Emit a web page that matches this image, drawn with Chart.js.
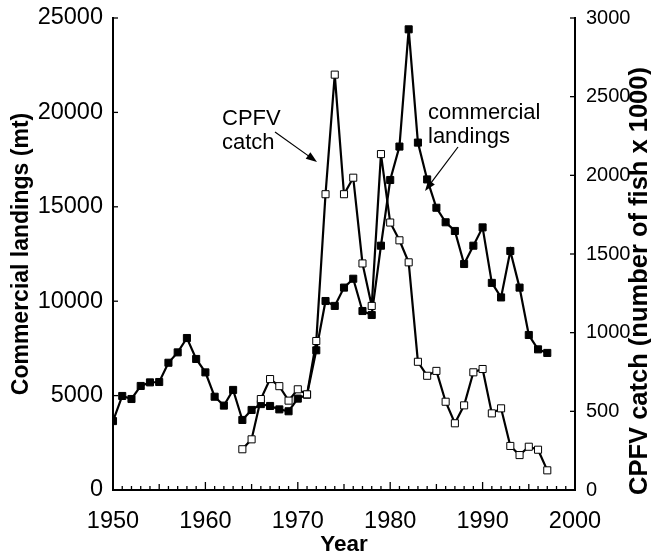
<!DOCTYPE html>
<html>
<head>
<meta charset="utf-8">
<script src="https://cdn.jsdelivr.net/npm/chart.js@4.4.0/dist/chart.umd.min.js"></script>
<style>
  html, body { margin: 0; padding: 0; background: #fff; }
  #wrap { width: 651px; height: 558px; }
</style>
</head>
<body>
<div id="wrap"><canvas id="chart" width="651" height="558"></canvas></div>
<script>
// years shared by both series
const years = [1950, 1951, 1952, 1953, 1954, 1955, 1956, 1957, 1958, 1959,
               1960, 1961, 1962, 1963, 1964, 1965, 1966, 1967, 1968, 1969,
               1970, 1971, 1972, 1973, 1974, 1975, 1976, 1977, 1978, 1979,
               1980, 1981, 1982, 1983, 1984, 1985, 1986, 1987, 1988, 1989,
               1990, 1991, 1992, 1993, 1994, 1995, 1996, 1997];

// commercial landings (mt), left axis
const commercial = [3650, 4980, 4820, 5510, 5700, 5720, 6740, 7290, 8050, 6940,
                    6230, 4940, 4470, 5300, 3710, 4240, 4550, 4450, 4270, 4170,
                    4840, 5050, 7400, 10010, 9750, 10720, 11190, 9480, 9270, 12940,
                    16420, 18190, 24400, 18400, 16450, 14950, 14180, 13720, 11970, 12940,
                    13910, 10970, 10200, 12660, 10720, 8210, 7450, 7260];

// CPFV catch (number of fish x 1000), right axis - no record before 1964
const cpfv = [null, null, null, null, null, null, null, null, null, null,
              null, null, null, null, 259, 322, 578, 705, 660, 568,
              640, 608, 947, 1880, 2640, 1880, 1985, 1440, 1170, 2135,
              1700, 1587, 1447, 815, 726, 757, 561, 424, 538, 748,
              769, 487, 519, 280, 222, 275, 256, 125];

const leftTicks = [0, 5000, 10000, 15000, 20000, 25000];
const rightTicks = [0, 500, 1000, 1500, 2000, 2500, 3000];

const FONT = '"Liberation Sans", Arial, Helvetica, sans-serif';
Chart.defaults.font.family = FONT;
Chart.defaults.color = '#000';

// short tick marks pointing into the plot
const inwardTicks = {
  id: 'inwardTicks',
  afterDraw(chart) {
    const ctx = chart.ctx;
    const area = chart.chartArea;
    const {x, y, y1} = chart.scales;
    ctx.save();
    ctx.strokeStyle = '#000';
    ctx.lineWidth = 1.3;
    x.ticks.forEach(t => {
      const px = x.getPixelForValue(t.value);
      const len = t.value % 10 === 0 ? 8 : (t.value % 5 === 0 ? 6 : 4);
      ctx.beginPath();
      ctx.moveTo(px, area.bottom);
      ctx.lineTo(px, area.bottom - len);
      ctx.stroke();
    });
    leftTicks.forEach(v => {
      const py = y.getPixelForValue(v);
      ctx.beginPath();
      ctx.moveTo(area.left, py);
      ctx.lineTo(area.left + 5, py);
      ctx.stroke();
    });
    rightTicks.forEach(v => {
      const py = y1.getPixelForValue(v);
      ctx.beginPath();
      ctx.moveTo(area.right, py);
      ctx.lineTo(area.right - 5, py);
      ctx.stroke();
    });
    ctx.restore();
  }
};

function arrow(ctx, x0, y0, x1, y1) {
  const a = Math.atan2(y1 - y0, x1 - x0);
  const len = 11, half = 4;
  ctx.beginPath();
  ctx.moveTo(x0, y0);
  ctx.lineTo(x1 - Math.cos(a) * len * 0.8, y1 - Math.sin(a) * len * 0.8);
  ctx.stroke();
  ctx.beginPath();
  ctx.moveTo(x1, y1);
  ctx.lineTo(x1 - Math.cos(a) * len - Math.sin(a) * half, y1 - Math.sin(a) * len + Math.cos(a) * half);
  ctx.lineTo(x1 - Math.cos(a) * len + Math.sin(a) * half, y1 - Math.sin(a) * len - Math.cos(a) * half);
  ctx.closePath();
  ctx.fill();
}

// series labels with arrows, and the right axis title (reads bottom to top)
const notes = {
  id: 'notes',
  afterDraw(chart) {
    const ctx = chart.ctx;
    ctx.save();
    ctx.fillStyle = '#000';
    ctx.strokeStyle = '#000';
    ctx.lineWidth = 1.2;
    ctx.font = '22px ' + FONT;
    ctx.textAlign = 'left';
    ctx.textBaseline = 'alphabetic';
    ctx.fillText('CPFV', 222, 125);
    ctx.fillText('catch', 222, 149);
    ctx.fillText('commercial', 428, 119);
    ctx.fillText('landings', 428, 143);
    arrow(ctx, 275, 132, 317, 162);
    arrow(ctx, 458, 147, 425, 191);

    ctx.translate(640, 281);
    ctx.rotate(-Math.PI / 2);
    ctx.font = 'bold 25.5px ' + FONT;
    ctx.textAlign = 'center';
    ctx.textBaseline = 'middle';
    ctx.fillText('CPFV catch (number of fish x 1000)', 0, 0);
    ctx.restore();
  }
};

const plain = v => String(v);
const noPad = s => { s.paddingTop = 0; s.paddingBottom = 0; };

new Chart(document.getElementById('chart'), {
  type: 'line',
  data: {
    datasets: [
      {
        label: 'CPFV catch',
        data: years.map((yr, i) => ({x: yr, y: cpfv[i]})),
        yAxisID: 'y1',
        borderColor: '#000',
        borderWidth: 2.2,
        pointStyle: 'rect',
        pointRadius: 5,
        pointBackgroundColor: '#fff',
        pointBorderColor: '#000',
        pointBorderWidth: 1,
        tension: 0,
        order: 0
      },
      {
        label: 'commercial landings',
        data: years.map((yr, i) => ({x: yr, y: commercial[i]})),
        yAxisID: 'y',
        borderColor: '#000',
        borderWidth: 2.2,
        pointStyle: 'rect',
        pointRadius: 5,
        pointBackgroundColor: '#000',
        pointBorderColor: '#000',
        pointBorderWidth: 1,
        tension: 0,
        order: 1
      }
    ]
  },
  options: {
    responsive: false,
    animation: false,
    layout: { padding: { top: 18, left: 0, right: 0, bottom: 0 } },
    plugins: {
      legend: { display: false },
      tooltip: { enabled: false }
    },
    scales: {
      x: {
        type: 'linear',
        position: 'bottom',
        min: 1950,
        max: 2000,
        grid: { display: false, drawTicks: false },
        border: { display: true, color: '#000', width: 2 },
        ticks: {
          stepSize: 1,
          autoSkip: false,
          maxRotation: 0,
          minRotation: 0,
          padding: 17,
          font: { size: 23.5 },
          callback: v => (v % 10 === 0 ? String(v) : '')
        },
        title: {
          display: true,
          text: 'Year',
          font: { size: 22.5, weight: 'bold' },
          padding: { top: 0, bottom: 0 }
        },
        afterFit(s) { s.height = 68; }
      },
      y: {
        position: 'left',
        min: 0,
        max: 25000,
        grid: { display: false, drawTicks: false },
        border: { display: true, color: '#000', width: 2 },
        ticks: { stepSize: 5000, padding: 10, font: { size: 23.5 }, callback: plain },
        title: {
          display: true,
          text: 'Commercial landings (mt)',
          font: { size: 23, weight: 'bold' },
          padding: { top: 8, bottom: 0 }
        },
        afterFit(s) { s.width = 113; noPad(s); }
      },
      y1: {
        position: 'right',
        min: 0,
        max: 3000,
        grid: { display: false, drawTicks: false },
        border: { display: true, color: '#000', width: 2 },
        ticks: { stepSize: 500, padding: 11, font: { size: 20 }, callback: plain },
        afterFit(s) { s.width = 76; noPad(s); }
      }
    }
  },
  plugins: [inwardTicks, notes]
});
</script>
</body>
</html>
